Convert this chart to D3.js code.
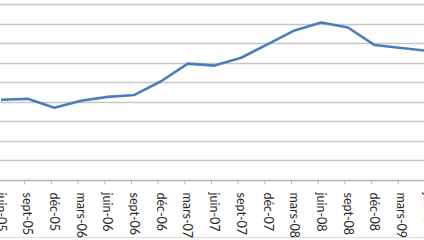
<!DOCTYPE html>
<html>
<head>
<meta charset="utf-8">
<script src="https://cdn.jsdelivr.net/npm/d3@7"></script>
<style>
  body { margin: 0; background: #fff; }
  svg { display: block; }
</style>
</head>
<body>
<div id="chart"></div>
<script>
// quarterly series
const quarters = ["juin-05", "sept-05", "déc-05", "mars-06", "juin-06", "sept-06",
  "déc-06", "mars-07", "juin-07", "sept-07", "déc-07", "mars-08", "juin-08",
  "sept-08", "déc-08", "mars-09", "juin-09"];
const values = [82, 83, 74, 81, 85, 87, 101, 119, 117, 125, 139, 153, 161, 156, 138, 135, 132];
const yTicks = [0, 20, 40, 60, 80, 100, 120, 140, 160, 180];

const width = 424, height = 240;
const margin = {top: 4, bottom: 60};

const svg = d3.select("#chart").append("svg")
  .attr("width", width)
  .attr("height", height);

const x = d3.scalePoint()
  .domain(quarters)
  .range([1, 428]);

const y = d3.scaleLinear()
  .domain([0, 180])
  .range([height - margin.bottom, margin.top]);

// gridlines
svg.append("g")
  .selectAll("line")
  .data(yTicks)
  .join("line")
    .attr("x1", 0)
    .attr("x2", width)
    .attr("y1", d => Math.round(y(d)) + 0.5)
    .attr("y2", d => Math.round(y(d)) + 0.5)
    .attr("stroke", d => d === 0 ? "#b4b4b4" : "#c6c6c6")
    .attr("stroke-width", 1.5);

// faint frame line at the bottom
svg.append("line")
  .attr("x1", 0).attr("x2", width)
  .attr("y1", 237.5).attr("y2", 237.5)
  .attr("stroke", "#dcdcdc");

// x axis: tick marks sit a little left of each label
const xAxis = svg.append("g")
  .attr("transform", `translate(0,${Math.round(y(0)) + 0.5})`);

xAxis.selectAll("line")
  .data(quarters)
  .join("line")
    .attr("x1", d => x(d) - 3)
    .attr("x2", d => x(d) - 3)
    .attr("y1", 0)
    .attr("y2", 4)
    .attr("stroke", "#b4b4b4");

xAxis.selectAll("text")
  .data(quarters)
  .join("text")
    .attr("transform", d => `translate(${x(d)},12) rotate(90)`)
    .attr("dy", "0.35em")
    .attr("fill", "#2a2a2a")
    .style("font-family", "Lato, 'Open Sans', sans-serif")
    .style("font-size", "12.5px")
    .text(d => d);

// series line
const line = d3.line()
  .x((d, i) => x(quarters[i]))
  .y(d => y(d));

svg.append("path")
  .datum(values)
  .attr("fill", "none")
  .attr("stroke", "#4a7ebb")
  .attr("stroke-width", 2.6)
  .attr("stroke-linejoin", "round")
  .attr("d", line);
</script>
</body>
</html>
